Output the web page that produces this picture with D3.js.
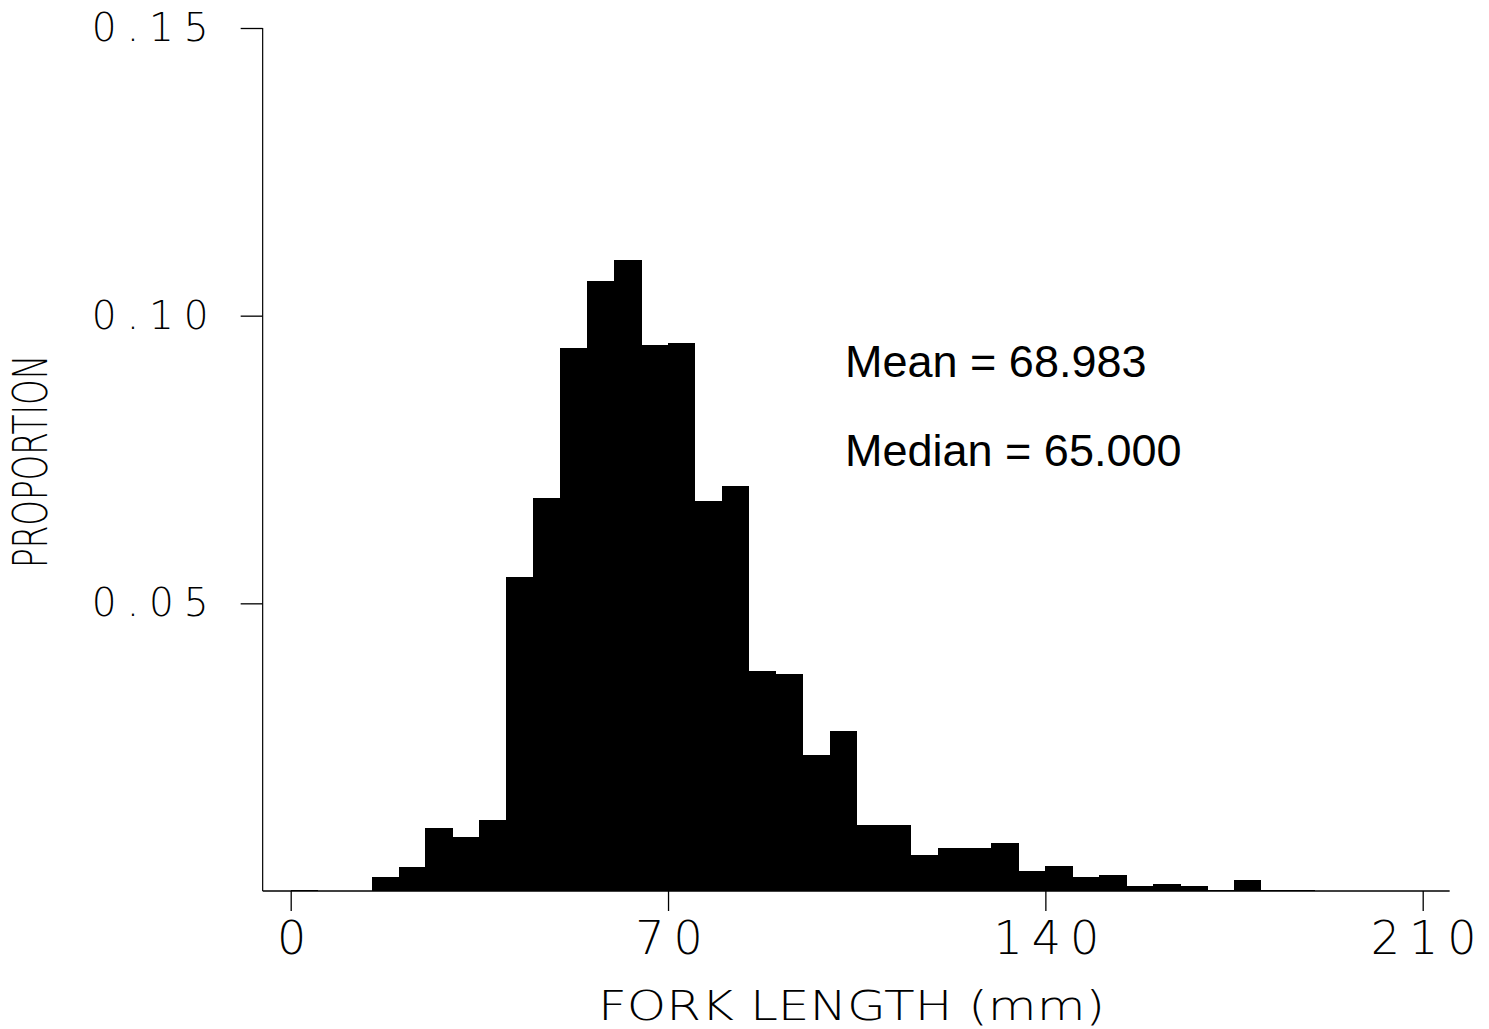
<!DOCTYPE html>
<html>
<head>
<meta charset="utf-8">
<script src="https://cdn.jsdelivr.net/npm/d3@7"></script>
<style>
  html, body { margin: 0; padding: 0; background: #fff; }
  .thin { font-family: "DejaVu Sans", sans-serif; font-weight: 200; }
</style>
</head>
<body>
<script>
const binStarts = [0, 5, 10, 15, 20, 25, 30, 35, 40, 45, 50, 55, 60, 65, 70, 75, 80, 85, 90, 95,
  100, 105, 110, 115, 120, 125, 130, 135, 140, 145, 150, 155, 160, 165, 170, 175, 180, 185,
  190, 195, 200, 205];
const proportions = [0.0002, 0, 0, 0.0024, 0.0042, 0.0109, 0.0093, 0.0123, 0.0545, 0.0683,
  0.0943, 0.106, 0.1096, 0.0949, 0.0953, 0.0678, 0.0704, 0.0382, 0.0377, 0.0236,
  0.0278, 0.0115, 0.0115, 0.0062, 0.0075, 0.0075, 0.0083, 0.0034, 0.0044, 0.0024,
  0.0027, 0.0009, 0.0012, 0.0009, 0.0002, 0.0019, 0.0002, 0.0002, 0, 0, 0, 0];
const binWidth = 5;
const xTicks = [0, 70, 140, 210];
const yTicks = [0.05, 0.10, 0.15];
const statLabels = ["Mean = 68.983", "Median = 65.000"];

const width = 1489;
const height = 1029;

const bins = binStarts.map((b, i) => ({ x0: b, x1: b + binWidth, p: proportions[i] }));

const x = d3.scaleLinear().domain([0, 210]).range([290.7, 1422.7]);
const y = d3.scaleLinear().domain([0, 0.15]).range([891, 28]);

const svg = d3
  .select("body")
  .append("svg")
  .attr("width", width)
  .attr("height", height);

svg
  .append("g")
  .attr("shape-rendering", "crispEdges")
  .selectAll("rect")
  .data(bins.filter((d) => d.p > 0))
  .join("rect")
  .attr("x", (d) => x(d.x0))
  .attr("width", (d) => x(d.x1) - x(d.x0) + 0.5)
  .attr("y", (d) => y(d.p))
  .attr("height", (d) => y(0) - y(d.p))
  .attr("fill", "#000");

const xAxis = svg
  .append("g")
  .attr("transform", `translate(0,${y(0)})`)
  .call(d3.axisBottom(x).tickValues(xTicks).tickSize(20).tickPadding(10).tickSizeOuter(0));

xAxis.select(".domain").remove();
xAxis
  .append("line")
  .attr("x1", x(-5.2))
  .attr("x2", x(215))
  .attr("stroke", "#000")
  .attr("stroke-width", 1.5);
xAxis.selectAll(".tick line").attr("stroke-width", 1.3);
xAxis
  .selectAll(".tick text")
  .attr("class", "thin")
  .attr("font-size", 46)
  .attr("letter-spacing", 9)
  .attr("dx", 5)
  .attr("fill", "#000");

const yAxis = svg
  .append("g")
  .attr("transform", `translate(${x(-5.2)},0)`)
  .call(d3.axisLeft(y).tickValues(yTicks).tickFormat(d3.format(".2f")).tickSize(22).tickPadding(22).tickSizeOuter(0));

yAxis.select(".domain").remove();
yAxis
  .append("line")
  .attr("y1", y(0.15))
  .attr("y2", y(0))
  .attr("stroke", "#000")
  .attr("stroke-width", 1.2);
yAxis.selectAll(".tick line").attr("stroke-width", 1.3);
yAxis
  .selectAll(".tick text")
  .attr("class", "thin")
  .attr("font-size", 39)
  .attr("letter-spacing", 10)
  .attr("fill", "#000");

svg
  .append("text")
  .attr("class", "thin")
  .attr("x", 598)
  .attr("y", 1020)
  .attr("font-size", 41)
  .attr("textLength", 507)
  .attr("lengthAdjust", "spacingAndGlyphs")
  .text("FORK LENGTH (mm)");

svg
  .append("text")
  .attr("class", "thin")
  .attr("transform", "translate(47,568) rotate(-90)")
  .attr("font-size", 48)
  .attr("textLength", 213)
  .attr("lengthAdjust", "spacingAndGlyphs")
  .text("PROPORTION");

svg
  .append("g")
  .selectAll("text")
  .data(statLabels)
  .join("text")
  .attr("x", 845)
  .attr("y", (d, i) => 377 + i * 89)
  .attr("font-family", "'Liberation Sans', Arial, sans-serif")
  .attr("font-size", 45)
  .text((d) => d);
</script>
</body>
</html>
